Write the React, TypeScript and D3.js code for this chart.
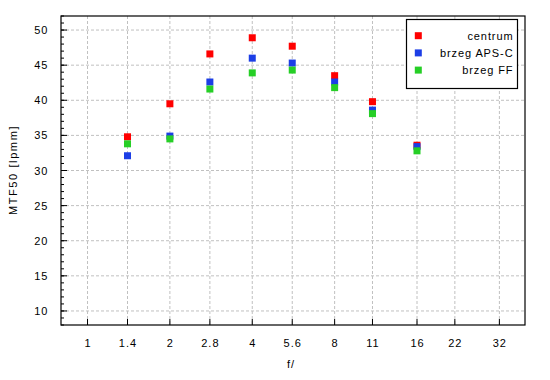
import React from "react";
import * as d3 from "d3";

const fStops = [1.4, 2, 2.8, 4, 5.6, 8, 11, 16];
const centrum = [34.8, 39.5, 46.6, 48.9, 47.7, 43.5, 39.8, 33.6];
const brzegAPSC = [32.1, 34.9, 42.6, 46.0, 45.3, 42.6, 38.6, 33.4];
const brzegFF = [33.8, 34.5, 41.6, 43.9, 44.3, 41.8, 38.1, 32.8];
const xTicks = [1, 1.4, 2, 2.8, 4, 5.6, 8, 11, 16, 22, 32];
const xTickLabels = ["1", "1.4", "2", "2.8", "4", "5.6", "8", "11", "16", "22", "32"];
const yTicks = [10, 15, 20, 25, 30, 35, 40, 45, 50];
const seriesNames = ["centrum", "brzeg APS-C", "brzeg FF"];
const seriesColors = ["#ff0000", "#1c3ee6", "#26cf26"];

const W = 550, H = 380;
const L = 61, T = 16, R = 525, B = 325;

export default function App() {
  const x = d3.scaleLog().base(2).domain([0.8, 39.7]).range([L, R]);
  const y = d3.scaleLinear().domain([8, 52]).range([B, T]);
  const minor = d3.range(8, 53, 1);
  const series = [centrum, brzegAPSC, brzegFF];
  const font = "Liberation Sans, Arial, sans-serif";
  const sq = 7;
  return (
    <svg width={W} height={H} style={{ position: "absolute", left: 0, top: 0 }} fontFamily={font}>
      <rect x={0} y={0} width={W} height={H} fill="#fff" />
      {yTicks.map((v) => (
        <line key={"gy" + v} x1={L} x2={R} y1={y(v)} y2={y(v)} stroke="#c0c0c0" strokeDasharray="3,2" />
      ))}
      {xTicks.map((v) => (
        <line key={"gx" + v} x1={x(v)} x2={x(v)} y1={T} y2={B} stroke="#c0c0c0" strokeDasharray="3,2" />
      ))}
      {minor.map((v) => (
        <line key={"mt" + v} x1={L} x2={L + 3} y1={y(v)} y2={y(v)} stroke="#000" />
      ))}
      {yTicks.map((v) => (
        <g key={"yt" + v}>
          <line x1={L} x2={L + 6} y1={y(v)} y2={y(v)} stroke="#000" />
          <text x={48.5} y={y(v) + 4} textAnchor="end" fontSize={11} letterSpacing={1}>{v}</text>
        </g>
      ))}
      {xTicks.map((v, i) => (
        <g key={"xt" + v}>
          <line x1={x(v)} x2={x(v)} y1={B} y2={B - 6} stroke="#000" />
          <text x={x(v) + 0.5} y={347} textAnchor="middle" fontSize={11} letterSpacing={1}>{xTickLabels[i]}</text>
        </g>
      ))}
      <rect x={L} y={T} width={R - L} height={B - T} fill="none" stroke="#000" strokeWidth={1.2} />
      {series.map((s, si) => (
        <g key={"s" + si}>
          {s.map((v, i) => (
            <rect key={i} x={x(fStops[i]) - sq / 2} y={y(v) - sq / 2} width={sq} height={sq} fill={seriesColors[si]} />
          ))}
        </g>
      ))}
      <rect x={406.5} y={19.5} width={111} height={69} fill="#fff" stroke="#000" strokeWidth={1.2} />
      {seriesNames.map((n, i) => (
        <g key={"lg" + i}>
          <rect x={418.3 - sq / 2} y={35.7 + i * 17.2 - sq / 2} width={sq} height={sq} fill={seriesColors[i]} />
          <text x={513.5} y={35.7 + i * 17.2 + 4} textAnchor="end" fontSize={11} letterSpacing={0.9}>{n}</text>
        </g>
      ))}
      <text transform="translate(17,170) rotate(-90)" textAnchor="middle" fontSize={11} letterSpacing={1.6}>MTF50 [lpmm]</text>
      <text x={291} y={368} textAnchor="middle" fontSize={11} letterSpacing={1}>f/</text>
    </svg>
  );
}
